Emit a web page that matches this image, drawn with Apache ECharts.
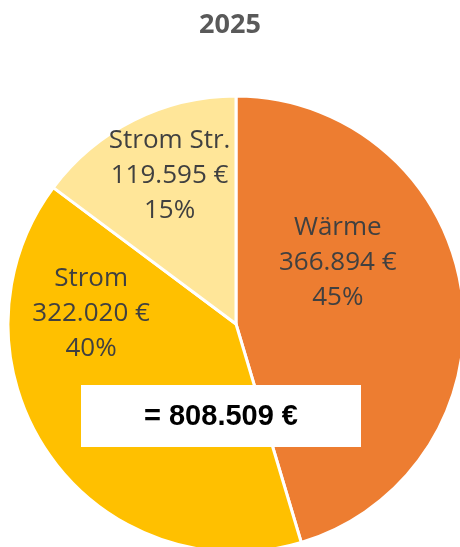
<!DOCTYPE html>
<html>
<head>
<meta charset="utf-8">
<script src="https://cdn.jsdelivr.net/npm/echarts@6/dist/echarts.min.js"></script>
<style>
html, body { margin: 0; padding: 0; background: #fff; }
#myChart { width: 460px; height: 547px; }
</style>
</head>
<body>
<div id="myChart"></div>
<script>
var titleText = '2025';
var categories = ['Wärme', 'Strom', 'Strom Str.'];
var values = [366894, 322020, 119595];
var colors = ['#ED7D31', '#FFC000', '#FFE699'];
// label shifts relative to the default inside position
var labelOffsets = [[-14, -44], [-49, -77], [-14, -44]];

function fmtEuro(v) {
    return String(v).replace(/\B(?=(\d{3})+(?!\d))/g, '.') + ' €';
}

var total = 0;
for (var i = 0; i < values.length; i++) total += values[i];

var pieData = [];
for (var i = 0; i < categories.length; i++) {
    pieData.push({
        name: categories[i],
        value: values[i],
        itemStyle: { color: colors[i] },
        label: { offset: labelOffsets[i] }
    });
}

var myChart = echarts.init(document.getElementById('myChart'));
var option = {
    animation: false,
    title: {
        text: titleText,
        left: 'center',
        top: 7,
        textStyle: {
            fontFamily: '"Open Sans", sans-serif',
            fontWeight: 'bold',
            fontSize: 27,
            color: '#595959'
        }
    },
    series: [{
        type: 'pie',
        center: [236, 324],
        radius: [0, 228],
        startAngle: 90,
        clockwise: true,
        itemStyle: { borderColor: '#fff', borderWidth: 3 },
        label: {
            show: true,
            position: 'inside',
            fontFamily: '"Open Sans", sans-serif',
            fontSize: 26,
            lineHeight: 35,
            color: '#404040',
            align: 'center',
            formatter: function(p) {
                return p.name + '\n' + fmtEuro(p.value) + '\n' + Math.round(p.percent) + '%';
            }
        },
        labelLine: { show: false },
        emphasis: { disabled: true },
        data: pieData
    }],
    graphic: [{
        type: 'rect',
        left: 81,
        top: 385,
        shape: { width: 280, height: 62 },
        style: { fill: '#fff' },
        z: 100
    }, {
        type: 'text',
        x: 221,
        y: 417,
        style: {
            text: '= ' + fmtEuro(total),
            font: 'bold 29px "Liberation Sans", Arial, sans-serif',
            fill: '#000',
            align: 'center',
            verticalAlign: 'middle'
        },
        z: 101
    }]
};
myChart.setOption(option);
</script>
</body>
</html>
